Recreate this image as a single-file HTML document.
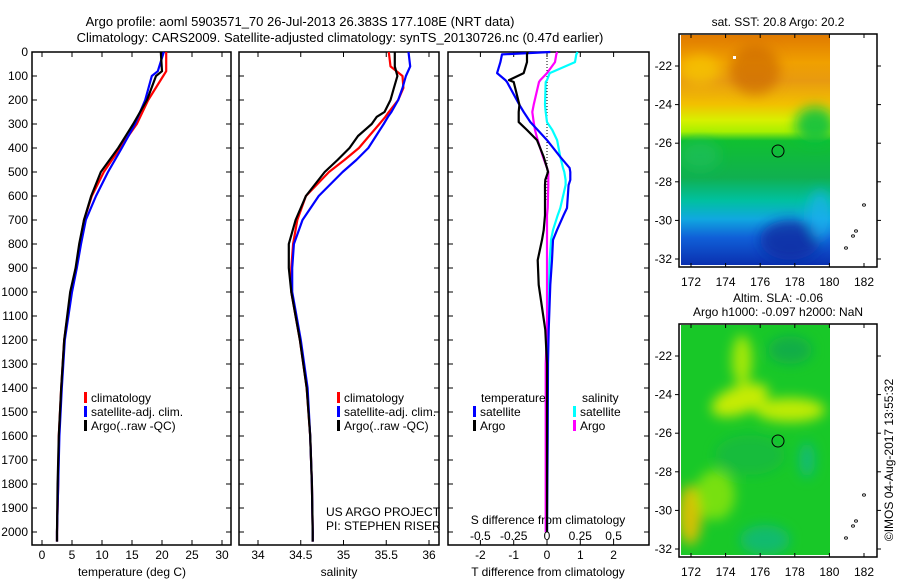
<!DOCTYPE html>
<html><head><meta charset="utf-8"><style>
html,body{margin:0;padding:0;background:#fff;}
svg{display:block;font-family:"Liberation Sans",sans-serif;}
</style></head><body>
<svg id="c" width="900" height="580" viewBox="0 0 900 580">
<defs>
<filter id="bl"><feGaussianBlur stdDeviation="6"/></filter>
<linearGradient id="sstg" x1="0" y1="0" x2="0" y2="1">
<stop offset="0" stop-color="#e07a00"/><stop offset="0.12" stop-color="#f0a000"/><stop offset="0.2" stop-color="#e89a10"/><stop offset="0.3" stop-color="#f2c000"/><stop offset="0.37" stop-color="#d8f000"/><stop offset="0.42" stop-color="#a8f000"/><stop offset="0.46" stop-color="#10c030"/><stop offset="0.62" stop-color="#10b050"/><stop offset="0.72" stop-color="#00c0a0"/><stop offset="0.8" stop-color="#10a8e0"/><stop offset="0.88" stop-color="#1060d8"/><stop offset="1" stop-color="#0a30b0"/>
</linearGradient>
<clipPath id="m1c"><rect x="681" y="35" width="149" height="230"/></clipPath>
<clipPath id="m2c"><rect x="681" y="325" width="149" height="230"/></clipPath>
</defs>
</svg>
<script>
// ---- data ----
const tDepth = [0,80,100,200,300,400,500,600,700,800,900,1000,1200,1400,1600,1800,2000,2040];
const tClim  = [20.7,20.7,20.2,17.7,15.8,13.0,10.3,8.3,7.0,6.3,5.7,4.8,3.7,3.2,2.8,2.7,2.5,2.5];
const tSat   = [20.3,19.3,18.3,17.2,15.5,13.3,11.0,9.0,7.3,6.5,5.8,5.0,3.8,3.3,2.9,2.7,2.5,2.5];
const tArgo  = [19.8,20.0,19.0,17.5,15.2,12.7,9.8,8.2,7.0,6.2,5.6,4.7,3.7,3.2,2.8,2.6,2.5,2.5];
const sDepth = [0,60,100,150,200,250,270,300,350,400,450,500,600,700,800,900,1000,1200,1400,1600,1800,2000,2040];
const sClim  = [35.53,35.55,35.69,35.70,35.64,35.53,35.49,35.42,35.30,35.18,35.01,34.83,34.56,34.46,34.41,34.39,34.39,34.49,34.57,34.61,34.63,34.64,34.64];
const sSat   = [35.76,35.78,35.73,35.69,35.64,35.56,35.52,35.47,35.38,35.29,35.15,34.99,34.71,34.52,34.42,34.40,34.40,34.50,34.58,34.61,34.63,34.64,34.64];
const sArgo  = [35.60,35.60,35.63,35.59,35.55,35.48,35.39,35.33,35.17,35.07,34.93,34.78,34.56,34.44,34.36,34.36,34.39,34.49,34.57,34.61,34.63,34.64,34.64];
const dDepth = [0,10,42,88,117,125,220,250,292,325,367,437,483,500,533,554,650,680,742,783,867,970,1158,1300,1600,2000];
const dTSat  = [0.1,-1.35,-1.4,-1.5,-1.25,-1.2,-0.83,-0.7,-0.5,-0.28,0.0,0.4,0.68,0.7,0.7,0.65,0.6,0.5,0.3,0.18,0.15,0.1,0.05,0.03,0.02,0.0];
const dTArgo = [-0.58,-0.6,-0.6,-0.7,-1.14,-1.0,-0.83,-0.85,-0.85,-0.6,-0.3,-0.1,0.0,0.03,-0.05,-0.06,-0.06,-0.06,-0.1,-0.15,-0.28,-0.25,-0.05,0.0,0.0,0.0];
const dSSat  = [0.23,0.22,0.21,0.02,0.0,-0.01,-0.015,-0.01,0.0,0.04,0.076,0.1,0.12,0.13,0.14,0.14,0.1,0.08,0.045,0.03,0.02,0.015,0.01,0.005,0.0,0.0];
const dSArgo = [0.076,0.07,0.06,0.0,-0.05,-0.06,-0.1,-0.11,-0.1,-0.09,-0.07,-0.03,0.0,0.01,0.01,0.01,0.005,0.0,0.0,0.0,0.0,0.0,0.0,-0.01,-0.01,-0.01];
const depthTicks = [0,100,200,300,400,500,600,700,800,900,1000,1100,1200,1300,1400,1500,1600,1700,1800,1900,2000];
const tTicks = [0,5,10,15,20,25,30];
const sTicks = [34,34.5,35,35.5,36];
const dTTicks = [-2,-1,0,1,2];
const dSTicks = ["-0.5","-0.25","0","0.25","0.5"];
const lonTicks = [172,174,176,178,180,182];
const latTicks = [-22,-24,-26,-28,-30,-32];

// ---- scales ----
const yD = d => 52 + d*0.24;
const xT = t => 42 + t*6;
const xS = s => 343.5 + (s-35)*85.5;
const xDT = t => 547 + t*33.3;
const xDS = s => 547 + s*133.2;
const mx = lon => 691 + (lon-172)*17.3;
const my1 = lat => 66 + (-22-lat)*19.3;
const my2 = lat => 356 + (-22-lat)*19.3;

const svg = document.getElementById('c');
const NS = 'http://www.w3.org/2000/svg';
function mk(tag, attrs, parent){const e=document.createElementNS(NS,tag);for(const k in attrs)e.setAttribute(k,attrs[k]);(parent||svg).appendChild(e);return e;}
function txt(x,y,s,anchor,size,parent){const e=mk('text',{x:x,y:y,'font-size':size||12,'text-anchor':anchor||'start',fill:'#000'},parent);e.textContent=s;return e;}

// titles
let e;
e=txt(300,26,'Argo profile: aoml 5903571_70 26-Jul-2013 26.383S 177.108E (NRT data)','middle',13);


e=txt(340,42,'Climatology: CARS2009. Satellite-adjusted climatology: synTS_20130726.nc (0.47d earlier)','middle',13);



// panels
const panels=[{x0:32,x1:231,name:'temperature-panel'},{x0:239,x1:439,name:'salinity-panel'},{x0:448,x1:649,name:'difference-panel'}];
panels.forEach(p=>{
  const g=mk('g',{});
  
  
  mk('rect',{x:p.x0,y:52,width:p.x1-p.x0,height:493,fill:'none',stroke:'#000','stroke-width':1.5},g);
  depthTicks.forEach(d=>{mk('line',{x1:p.x0,x2:p.x0+5,y1:yD(d),y2:yD(d),stroke:'#000'},g);mk('line',{x1:p.x1,x2:p.x1-5,y1:yD(d),y2:yD(d),stroke:'#000'},g);});
  p.g=g;
});
// depth labels
const yl=mk('g',{});


depthTicks.forEach(d=>txt(28,yD(d)+4,String(d),'end',12,yl));

function xticks(g,vals,fx,labels,ly){vals.forEach((v,i)=>{const x=fx(v);mk('line',{x1:x,x2:x,y1:545,y2:540,stroke:'#000'},g);mk('line',{x1:x,x2:x,y1:52,y2:57,stroke:'#000'},g);if(labels)txt(x,ly,labels[i],'middle',12,g);});}
xticks(panels[0].g,tTicks,xT,tTicks.map(String),559);
xticks(panels[1].g,sTicks,xS,sTicks.map(String),559);
xticks(panels[2].g,dTTicks,xDT,dTTicks.map(String),559);
dSTicks.forEach((s,i)=>txt(xDS(parseFloat(s)),540,s,'middle',12,panels[2].g));
e=txt(132,576,'temperature (deg C)','middle',12);  
e=txt(339,576,'salinity','middle',12);  
e=txt(548,576,'T difference from climatology','middle',12);  
e=txt(548,524,'S difference from climatology','middle',12);  
e=txt(326,516,'US ARGO PROJECT','start',12);  
e=txt(326,530,'PI: STEPHEN RISER','start',12);  

// dotted zero line
mk('line',{x1:547,x2:547,y1:52,y2:200,stroke:'#000','stroke-dasharray':'1,2'});

function line(xs,ds,fx,color,name,w){
  const pts=xs.map((v,i)=>fx(v).toFixed(1)+','+yD(ds[i]).toFixed(1)).join(' ');
  const el=mk('polyline',{points:pts,fill:'none',stroke:color,'stroke-width':w||2.2,'stroke-linejoin':'round'});
  
  
}
line(tClim,tDepth,xT,'#ff0000','temp-climatology-line');
line(tSat,tDepth,xT,'#0000ff','temp-satellite-line');
line(tArgo,tDepth,xT,'#000000','temp-argo-line');
line(sClim,sDepth,xS,'#ff0000','sal-climatology-line');
line(sSat,sDepth,xS,'#0000ff','sal-satellite-line');
line(sArgo,sDepth,xS,'#000000','sal-argo-line');
line(dSSat,dDepth,xDS,'#00ffff','s-diff-satellite-line');
line(dSArgo,dDepth,xDS,'#ff00ff','s-diff-argo-line');
line(dTSat,dDepth,xDT,'#0000ff','t-diff-satellite-line');
line(dTArgo,dDepth,xDT,'#000000','t-diff-argo-line');

// legends
function legend(x,y,color,label,name){
  const g=mk('g',{});
  
  
  mk('rect',{x:x,y:y-10,width:3,height:11,fill:color},g);
  txt(x+7,y,label,'start',12,g);
}
legend(84,402,'#ff0000','climatology','legend-climatology');
legend(84,416,'#0000ff','satellite-adj. clim.','legend-satellite');
legend(84,430,'#000000','Argo(..raw -QC)','legend-argo');
legend(337,402,'#ff0000','climatology','legend-sal-climatology');
legend(337,416,'#0000ff','satellite-adj. clim.','legend-sal-satellite');
legend(337,430,'#000000','Argo(..raw -QC)','legend-sal-argo');
e=txt(481,402,'temperature','start',12);  
e=txt(582,402,'salinity','start',12);  
legend(473,416,'#0000ff','satellite','legend-t-satellite');
legend(473,430,'#000000','Argo','legend-t-argo');
legend(573,416,'#00ffff','satellite','legend-s-satellite');
legend(573,430,'#ff00ff','Argo','legend-s-argo');

// maps
function mapFrame(y0,my,name){
  const g=mk('g',{});
  
  
  mk('rect',{x:679,y:y0,width:198,height:233,fill:'none',stroke:'#000','stroke-width':1.5},g);
  lonTicks.forEach(l=>{const x=mx(l);mk('line',{x1:x,x2:x,y1:y0,y2:y0+4,stroke:'#000'},g);mk('line',{x1:x,x2:x,y1:y0+233,y2:y0+229,stroke:'#000'},g);txt(x,y0+252,String(l),'middle',12,g);});
  latTicks.forEach(l=>{const y=my(l);mk('line',{x1:679,x2:675,y1:y,y2:y,stroke:'#000'},g);mk('line',{x1:877,x2:881,y1:y,y2:y,stroke:'#000'},g);txt(672,y+4,String(l),'end',12,g);});
  // islands
  [[864,y0+171],[856,y0+197],[853,y0+202],[846,y0+214]].forEach(p=>mk('ellipse',{cx:p[0],cy:p[1],rx:1.5,ry:1.2,fill:'none',stroke:'#000','stroke-width':0.8},g));
  mk('circle',{cx:778,cy:y0+117,r:6,fill:'none',stroke:'#000'},g);
  return g;
}
// SST map
const m1=mk('g',{'clip-path':'url(#m1c)'});


mk('rect',{x:681,y:35,width:149,height:230,fill:'url(#sstg)'},m1);
const b1=mk('g',{filter:'url(#bl)'},m1);
mk('ellipse',{cx:755,cy:70,rx:25,ry:25,fill:'#c86000',opacity:0.6},b1);
mk('ellipse',{cx:700,cy:70,rx:20,ry:15,fill:'#f8d000',opacity:0.6},b1);
mk('ellipse',{cx:815,cy:125,rx:20,ry:18,fill:'#10c040',opacity:0.9},b1);
mk('ellipse',{cx:700,cy:155,rx:20,ry:15,fill:'#20c060',opacity:0.6},b1);
mk('ellipse',{cx:790,cy:240,rx:30,ry:20,fill:'#0a2aa0',opacity:0.8},b1);
mk('ellipse',{cx:820,cy:215,rx:12,ry:25,fill:'#20b0f0',opacity:0.7},b1);
mk('rect',{x:733,y:56,width:3,height:3,fill:'#fff'},m1);
mapFrame(34,my1,'sst-map-frame');
e=txt(778,26,'sat. SST: 20.8 Argo: 20.2','middle',12);  
// SLA map
const m2=mk('g',{'clip-path':'url(#m2c)'});


mk('rect',{x:681,y:325,width:149,height:230,fill:'#18c828'},m2);
const b2=mk('g',{filter:'url(#bl)'},m2);
mk('ellipse',{cx:740,cy:400,rx:30,ry:14,fill:'#d8f000',opacity:0.9,transform:'rotate(-20 740 400)'},b2);
mk('ellipse',{cx:790,cy:410,rx:35,ry:12,fill:'#d0f000',opacity:0.9},b2);
mk('ellipse',{cx:742,cy:360,rx:10,ry:25,fill:'#c8f000',opacity:0.8},b2);
mk('ellipse',{cx:790,cy:350,rx:22,ry:14,fill:'#10a850',opacity:0.8},b2);
mk('ellipse',{cx:690,cy:515,rx:12,ry:30,fill:'#e8c000',opacity:0.9},b2);
mk('ellipse',{cx:715,cy:495,rx:20,ry:25,fill:'#b8f000',opacity:0.6},b2);
mk('ellipse',{cx:765,cy:540,rx:25,ry:15,fill:'#10b880',opacity:0.8},b2);
mk('ellipse',{cx:807,cy:460,rx:8,ry:18,fill:'#10b888',opacity:0.8},b2);
mk('ellipse',{cx:750,cy:455,rx:35,ry:20,fill:'#10b050',opacity:0.5},b2);
mapFrame(324,my2,'sla-map-frame');
e=txt(778,302,'Altim. SLA: -0.06','middle',12);  
e=txt(778,316,'Argo h1000: -0.097 h2000: NaN','middle',12);  
e=txt(893,460,'©IMOS 04-Aug-2017 13:55:32','middle',12);
e.setAttribute('transform','rotate(-90 893 460)');


</script>
</body></html>
